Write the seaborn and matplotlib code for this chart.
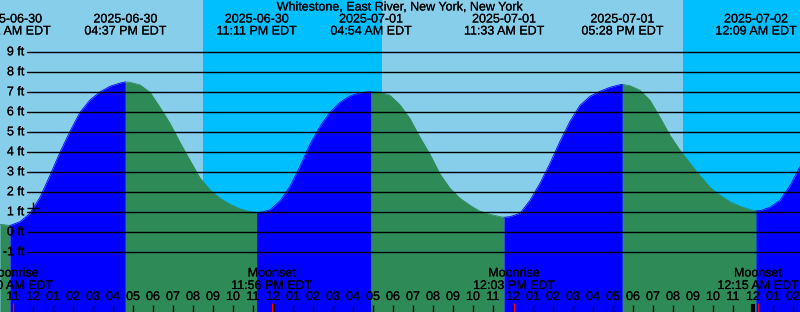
import numpy as np
import pandas as pd
import matplotlib
matplotlib.use("Agg")
import matplotlib.pyplot as plt
import matplotlib.transforms as mtransforms
import matplotlib.patheffects as pe
import seaborn as sns

# ---------------- data ----------------
title = "Whitestone, East River, New York, New York"
base_day = "2025-06-30 00:00"

# tide height read every 30 minutes from the picture
sample_start = "2025-06-30 10:21"
sample_end = "2025-07-02 02:21"
sample_heights = [
    0.40, 0.34, 0.53, 0.95, 1.75, 2.85, 4.00, 5.05, 6.00, 6.62,
    7.02, 7.30, 7.46, 7.50, 7.37, 7.00, 6.25, 5.45, 4.50, 3.60,
    2.72, 2.12, 1.70, 1.40, 1.17, 1.03, 0.99, 1.12, 1.57, 2.30,
    3.30, 4.40, 5.30, 6.00, 6.50, 6.82, 6.98, 7.03, 7.00, 6.85,
    6.37, 5.68, 4.75, 3.90, 2.92, 2.20, 1.70, 1.35, 1.05, 0.90,
    0.78, 0.78, 0.95, 1.60, 2.45, 3.45, 4.55, 5.55, 6.35, 6.80,
    7.05, 7.25, 7.38, 7.33, 7.10, 6.60, 5.75, 4.85, 4.10, 3.45,
    2.83, 2.25, 1.85, 1.52, 1.30, 1.13, 1.08, 1.25, 1.60, 2.33,
    3.30,
]

event_times = ["2025-06-30 10:51", "2025-06-30 16:37", "2025-06-30 23:11",
               "2025-07-01 04:54", "2025-07-01 11:33", "2025-07-01 17:28",
               "2025-07-02 00:09"]
event_heights = [0.34, 7.52, 0.98, 7.04, 0.75, 7.40, 1.07]
event_kinds = ["low", "high", "low", "high", "low", "high", "low"]

night_starts = ["2025-06-30 20:29", "2025-07-01 20:30"]
night_ends = ["2025-07-01 05:26", "2025-07-02 02:21"]

moon_times = ["2025-06-30 11:00", "2025-06-30 23:56",
              "2025-07-01 12:03", "2025-07-02 00:15"]
moon_events = ["Moonrise", "Moonset", "Moonrise", "Moonset"]

now_time = "2025-06-30 12:00"
now_height = 1.23

foot_levels = [-1, 0, 1, 2, 3, 4, 5, 6, 7, 8, 9]
hour_start = "2025-06-30 10:00"
hour_end = "2025-07-02 02:00"

# ---------------- colours / style ----------------
DAY = "#87CEEB"
NIGHT = "#00BFFF"
RISE = "#0000FF"
FALL = "#2E8B57"
INK = "#000000"

sns.set_style("white")
plt.rcParams["font.family"] = ["Liberation Sans", "DejaVu Sans"]
plt.rcParams["text.color"] = INK
FS = 9
TXT = dict(fontsize=FS, color=INK, zorder=5,
           path_effects=[pe.withStroke(linewidth=0.12, foreground=INK)])

base = pd.Timestamp(base_day)


def hrs(s):
    return (pd.to_datetime(s) - base) / pd.Timedelta(hours=1)


samp_t = np.asarray(hrs(pd.date_range(sample_start, sample_end, freq="30min")))
ev_t = np.asarray(hrs(pd.Series(event_times)))
samp = pd.DataFrame({"t": samp_t, "h": sample_heights})
ev = pd.DataFrame({"t": ev_t, "h": event_heights})
curve = (pd.concat([samp, ev]).drop_duplicates("t", keep="last")
         .sort_values("t").reset_index(drop=True))

xmin, xmax = samp_t[0], samp_t[-1]
ymin, ymax = -3.985, 11.615

fig = plt.figure(figsize=(8.0, 3.12), dpi=100)
ax = fig.add_axes([0, 0, 1, 1])
ax.set_facecolor(DAY)
ax.set_xlim(xmin, xmax)
ax.set_ylim(ymin, ymax)

for s, e in zip(night_starts, night_ends):
    ax.axvspan(hrs(s), hrs(e), color=NIGHT, lw=0, zorder=0)

# phase segments (rising = blue, falling = green)
bounds = [xmin] + list(ev_t) + [xmax]
seg_rows = []
for i in range(len(bounds) - 1):
    a, b = bounds[i], bounds[i + 1]
    if i < len(event_kinds):
        phase = "rise" if event_kinds[i] == "high" else "fall"
    else:
        phase = "rise" if event_kinds[-1] == "low" else "fall"
    m = (curve["t"] >= a - 1e-9) & (curve["t"] <= b + 1e-9)
    part = curve[m].copy()
    part["phase"] = phase
    part["seg"] = i
    seg_rows.append(part)
    ax.fill_between(part["t"], part["h"], ymin,
                    color=RISE if phase == "rise" else FALL, lw=0, zorder=1)
segs = pd.concat(seg_rows)
sns.lineplot(data=segs, x="t", y="h", hue="phase", units="seg", estimator=None,
             palette={"rise": RISE, "fall": FALL}, lw=0.6, legend=False,
             ax=ax, zorder=1.5)

# horizontal foot lines and labels
xl = 26.7 / 800
ax_y = mtransforms.blended_transform_factory(ax.transAxes, ax.transData)
for f in foot_levels:
    ax.axhline(f, xmin=xl, xmax=1, color=INK, lw=1.0, zorder=2)
    ax.text(24.5 / 800, f, f"{f} ft", transform=ax_y, ha="right", va="center",
            **TXT)

# now marker
ax.plot([hrs(now_time)], [now_height], marker="+", ms=9, mew=1.0,
        color=INK, zorder=4)

# top labels
x_ax = ax.get_xaxis_transform()
H = 312.0
ax.text(0.5, 1 - 7.5 / H, title, transform=ax.transAxes, ha="center",
        va="center", **TXT)
for t_s in event_times:
    ts = pd.Timestamp(t_s)
    x = hrs(t_s)
    ax.text(x, 1 - 19.5 / H, ts.strftime("%Y-%m-%d"), transform=x_ax,
            ha="center", va="center", **TXT)
    ax.text(x, 1 - 31.5 / H, ts.strftime("%I:%M %p EDT"), transform=x_ax,
            ha="center", va="center", **TXT)

# moon labels
for t_s, name in zip(moon_times, moon_events):
    ts = pd.Timestamp(t_s)
    x = hrs(t_s)
    ax.text(x, 1 - 273.5 / H, name, transform=x_ax, ha="center", va="center",
            **TXT)
    ax.text(x, 1 - 286 / H, ts.strftime("%I:%M %p EDT"), transform=x_ax,
            ha="center", va="center", **TXT)

# hour ticks
hours = pd.date_range(hour_start, hour_end, freq="h")
for hts in hours:
    x = hrs(hts)
    ax.text(x, 1 - 297 / H, hts.strftime("%I"), transform=x_ax, ha="center",
            va="center", **TXT)
    if hts.hour == 0:
        ax.plot([x, x], [0, 8 / H], transform=x_ax, color=INK, lw=3,
                solid_capstyle="butt", zorder=5)
    else:
        ax.plot([x, x], [0, 7 / H], transform=x_ax, color=INK, lw=1,
                solid_capstyle="butt", zorder=5)
for t_s in moon_times:
    x = hrs(t_s)
    ax.plot([x, x], [0, 9 / H], transform=x_ax, color="red", lw=1,
            solid_capstyle="butt", zorder=6)

ax.set_xticks([])
ax.set_yticks([])
ax.set_xlabel("")
ax.set_ylabel("")
for sp in ax.spines.values():
    sp.set_visible(False)

fig.savefig("out.png", dpi=100)
